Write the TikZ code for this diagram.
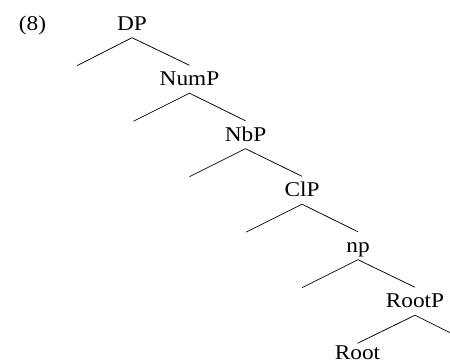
\documentclass[tikz,border=0pt]{standalone}
\usepackage{fontspec}
\setmainfont{Liberation Serif}[FakeStretch=1.11]
\usetikzlibrary{calc}
\begin{document}
\begin{tikzpicture}[x=1pt,y=-1pt,
  lab/.style={anchor=base,inner xsep=0pt,inner ysep=4pt,text height=16.5pt,text depth=3pt,font=\fontsize{21}{24}\selectfont},
  leaf/.style={lab,inner ysep=0pt,text height=16pt,text depth=0pt},
  branch/.style={line width=0.75pt}]
\useasboundingbox (0,0) rectangle (450,363);
\clip (0,0) rectangle (450,363);
\node[lab] (ex) at (32.5,30.5) {(8)};
\node[lab] (DP) at (132,30.5) {DP};
\node[lab] (NumP) at (189.5,86) {NumP};
\node[lab] (NbP) at (245.5,141.5) {NbP};
\node[lab] (ClP) at (302,197) {ClP};
\node[lab] (np) at (358,252.5) {np};
\node[lab] (RootP) at (415,308) {RootP};
\node[leaf] (Root) at (357.5,359.5) {Root};
\coordinate (DPl) at ($(DP.south)+(-55,28)$);
\coordinate (NumPl) at ($(NumP.south)+(-56,28)$);
\coordinate (NbPl) at ($(NbP.south)+(-56,28)$);
\coordinate (ClPl) at ($(ClP.south)+(-56,28)$);
\coordinate (npl) at ($(np.south)+(-56,28)$);
\coordinate (RootPr) at ($(RootP.south)+(60,30)$);
\draw[branch] (DPl) -- (DP.south) -- (NumP.north);
\draw[branch] (NumPl) -- (NumP.south) -- (NbP.north);
\draw[branch] (NbPl) -- (NbP.south) -- (ClP.north);
\draw[branch] (ClPl) -- (ClP.south) -- (np.north);
\draw[branch] (npl) -- (np.south) -- (RootP.north);
\draw[branch] (Root.north) -- (RootP.south) -- (RootPr);
\end{tikzpicture}
\end{document}
